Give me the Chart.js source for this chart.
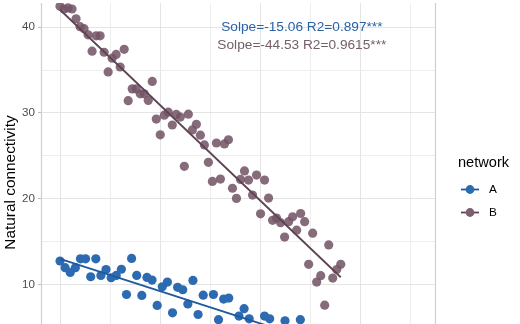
<!DOCTYPE html>
<html>
<head>
<meta charset="utf-8">
<script src="https://cdn.jsdelivr.net/npm/chart.js@4/dist/chart.umd.min.js"></script>
<style>
  html, body { margin: 0; padding: 0; background: #fff; overflow: hidden; }
  canvas { display: block; }
</style>
</head>
<body>
<canvas id="mainChart" width="520" height="365"></canvas>
<script>
// proportion of removed nodes per step, one step per point
var stepA = 0.01275;
var stepB = 0.01;

// natural connectivity, network A (null = below the visible part)
var valuesA = [12.75, 11.98, 11.41, 11.98, 13.01, 13.01, 10.92, 13.01, 11.07, 11.75,
               10.80, 11.07, 11.79, 8.85, 13.05, 11.07, 8.74, 10.84, 10.53, 7.57,
               9.75, 10.30, 6.71, 9.69, 9.40, 7.74, 10.49, 6.52, 8.77, null,
               8.85, 5.91, 8.32, 8.43, null, 6.33, 7.20, 6.02, null, null,
               6.33, 6.02, null, null, 5.79, null, null, 5.91];

// natural connectivity, network B
var valuesB = [42.43, 42.12, 42.24, 42.12, 40.98, 40.06, 39.83, 39.11, 37.20, 38.99,
               38.99, 37.08, 34.79, 36.39, 36.82, 35.36, 37.42, 31.43, 32.81, 32.81,
               32.23, 32.23, 31.47, 33.68, 29.29, 27.46, 29.75, 30.09, 28.60, 29.83,
               29.52, 23.79, 29.86, 28.03, 28.68, 27.42, 26.28, 24.25, 22.03, 26.50,
               22.30, 26.39, 26.88, 21.23, 20.05, 22.26, 23.25, 22.18, 20.43, 22.76,
               18.25, 22.18, 20.09, 17.49, 17.75, 17.22, 15.54, 17.34, 17.91, 16.34,
               18.29, 17.34, 12.36, 15.99, 10.30, 11.04, 7.60, 14.62, 10.76, 11.76,
               12.36];

var fitA = { slope: -15.06, intercept: 13.0 };
var fitB = { slope: -44.53, intercept: 42.03 };
var labelA = "Solpe=-15.06 R2=0.897***";
var labelB = "Solpe=-44.53 R2=0.9615***";

var networks = ["A", "B"];
var yTicks = [10, 20, 30, 40];
var yGrid = [5, 10, 15, 20, 25, 30, 35, 40];
var xGrid = [0, 0.125, 0.25, 0.375, 0.5, 0.625, 0.75, 0.875];

var colorA = "#2C6BB1", lineA = "#1E5A9C", textA = "#2A62A3";
var colorB = "rgba(114, 84, 101, 0.86)", lineB = "#5E4453", textB = "#735E6B";
var font = "'Liberation Sans', Arial, sans-serif";

function points(values, step) {
    return values.map(function (v, i) { return { x: i * step, y: v }; });
}
function fitLine(fit, n, step) {
    var xEnd = (n - 1) * step;
    return [{ x: 0, y: fit.intercept }, { x: xEnd, y: fit.intercept + fit.slope * xEnd }];
}
function isMajor(v, unit) {
    return Math.abs(v / unit - Math.round(v / unit)) < 1e-6;
}

var panelEdges = {
    id: "panelEdges",
    afterDraw: function (chart) {
        var a = chart.chartArea, c = chart.ctx;
        c.save();
        c.strokeStyle = "#CFCFCF";
        c.lineWidth = 1.2;
        c.beginPath();
        c.moveTo(a.left - 0.5, a.top); c.lineTo(a.left - 0.5, a.bottom);
        c.moveTo(a.right + 0.5, a.top); c.lineTo(a.right + 0.5, a.bottom);
        c.stroke();
        c.restore();
    }
};

var fitLabels = {
    id: "fitLabels",
    afterDatasetsDraw: function (chart) {
        var c = chart.ctx, xs = chart.scales.x, ys = chart.scales.y;
        c.save();
        c.font = "13.7px " + font;
        c.textAlign = "center";
        c.textBaseline = "middle";
        c.fillStyle = textA;
        c.fillText(labelA, xs.getPixelForValue(0.603), ys.getPixelForValue(40.02));
        c.fillStyle = textB;
        c.fillText(labelB, xs.getPixelForValue(0.603), ys.getPixelForValue(37.92));
        c.restore();
    }
};

var sideLegend = {
    id: "sideLegend",
    afterDraw: function (chart) {
        var c = chart.ctx;
        c.save();
        c.textAlign = "left";
        c.textBaseline = "middle";
        c.fillStyle = "#000";
        c.font = "14.6px " + font;
        c.fillText("network", 458, 163);
        var keys = [[colorA, lineA], ["#7A6070", lineB]];
        networks.forEach(function (name, i) {
            var y = 189.5 + i * 23;
            c.strokeStyle = keys[i][1];
            c.lineWidth = 1.8;
            c.beginPath(); c.moveTo(461, y); c.lineTo(479, y); c.stroke();
            c.fillStyle = keys[i][0];
            c.beginPath(); c.arc(470, y, 4.4, 0, Math.PI * 2); c.fill();
            c.fillStyle = "#000";
            c.font = "11.8px " + font;
            c.fillText(name, 489, y + 0.5);
        });
        c.restore();
    }
};

var ctx = document.getElementById("mainChart").getContext("2d");
var myChart = new Chart(ctx, {
    type: "scatter",
    data: {
        datasets: [
            {
                label: networks[0] + " fit",
                type: "line",
                data: fitLine(fitA, valuesA.length, stepA),
                borderColor: lineA,
                borderWidth: 1.8,
                pointRadius: 0,
                fill: false,
                order: 0,
            },
            {
                label: networks[1] + " fit",
                type: "line",
                data: fitLine(fitB, valuesB.length, stepB),
                borderColor: lineB,
                borderWidth: 1.8,
                pointRadius: 0,
                fill: false,
                order: 0,
            },
            {
                label: networks[0],
                data: points(valuesA, stepA),
                backgroundColor: colorA,
                borderWidth: 0,
                pointRadius: 4.6,
                order: 1,
            },
            {
                label: networks[1],
                data: points(valuesB, stepB),
                backgroundColor: colorB,
                borderWidth: 0,
                pointRadius: 4.6,
                order: 1,
            },
        ],
    },
    options: {
        responsive: false,
        animation: false,
        layout: { autoPadding: false, padding: { top: 0, right: 85, bottom: 0, left: 0 } },
        plugins: {
            legend: { display: false },
            tooltip: { enabled: false },
        },
        scales: {
            x: {
                type: "linear",
                min: -0.0449,
                max: 0.935,
                bounds: "data",
                afterBuildTicks: function (s) { s.ticks = xGrid.map(function (v) { return { value: v }; }); },
                ticks: { display: false },
                grid: {
                    drawTicks: false,
                    color: function (c) { return c.tick && isMajor(c.tick.value, 0.25) ? "#E4E4E4" : "#EEEEEE"; },
                    lineWidth: 1,
                },
                border: { display: false },
            },
            y: {
                min: 0.99,
                max: 42.81,
                bounds: "data",
                afterBuildTicks: function (s) { s.ticks = yGrid.map(function (v) { return { value: v }; }); },
                afterFit: function (s) { s.width = 42; },
                ticks: {
                    padding: 3,
                    color: "#4D4D4D",
                    font: { family: font, size: 11.6, lineHeight: 0.01 },
                    callback: function (v) { return yTicks.indexOf(v) >= 0 ? String(v) : ""; },
                },
                grid: {
                    tickLength: 4,
                    color: function (c) { return c.tick && isMajor(c.tick.value, 10) ? "#E4E4E4" : "#EEEEEE"; },
                    tickColor: function (c) { return c.tick && isMajor(c.tick.value, 10) ? "#BDBDBD" : "rgba(0,0,0,0)"; },
                    lineWidth: 1,
                },
                border: { display: false },
                title: {
                    display: true,
                    text: "Natural connectivity",
                    color: "#000",
                    font: { family: font, size: 15.4 },
                    padding: { top: 2, bottom: 0 },
                },
            },
        },
    },
    plugins: [panelEdges, fitLabels, sideLegend],
});
</script>
</body>
</html>
